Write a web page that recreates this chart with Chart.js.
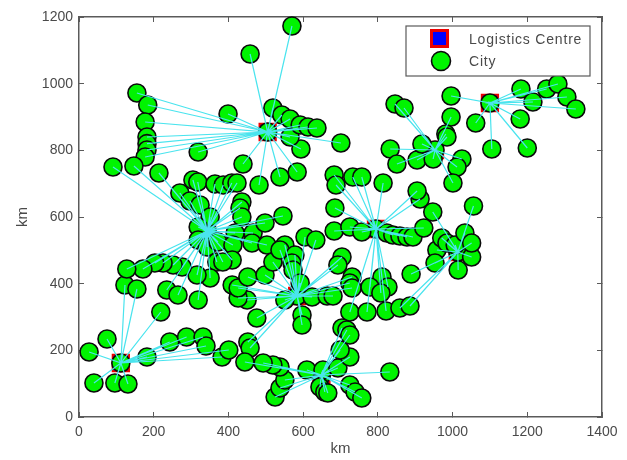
<!DOCTYPE html>
<html><head><meta charset="utf-8">
<style>html,body{margin:0;padding:0;background:#fff}#w{width:627px;height:460px;position:relative}canvas{display:block;filter:blur(0.55px)}</style>
<script src="https://cdn.jsdelivr.net/npm/chart.js@4/dist/chart.umd.min.js"></script>
</head><body><div id="w"><canvas id="c" width="627" height="460"></canvas></div>
<script>
const legendLabels=["Logistics Centre","City"];
const axisTitle="km";
const xTicks=[0,200,400,600,800,1000,1200,1400];
const yTicks=[0,200,400,600,800,1000,1200];
const hubA=[112,162];
const citiesA=[[75,234],[27,195],[40,102],[96,102],[131,99],[182,180],[123,396],[155,384],[219,315],[243,225],[288,240],[332,240],[340,213],[383,180],[401,201]];
const hubB=[505,855];
const citiesB=[[570,1173],[458,1089],[155,972],[184,936],[177,885],[399,909],[182,840],[182,820],[182,801],[177,780],[319,795],[439,759],[482,696],[538,720],[584,735],[594,804],[565,840],[519,927],[543,906],[565,894],[592,876],[613,870],[637,867],[701,822]];
const hubC=[343,558];
const citiesC=[[91,750],[147,753],[214,732],[270,672],[297,648],[324,636],[351,600],[305,711],[318,705],[364,699],[386,696],[409,702],[423,702],[436,645],[431,627],[436,600],[319,570],[319,531],[343,510],[372,525],[418,552],[412,516],[466,552],[463,522],[498,582],[503,516],[546,603],[410,471],[369,465],[385,465],[351,417],[316,426],[276,450],[252,456],[225,462],[203,462],[171,444],[128,444],[235,381],[265,366],[319,351]];
const hubD=[584,363];
const citiesD=[[476,297],[597,306],[597,276],[551,351],[624,360],[664,363],[680,363],[450,351],[426,357],[410,396],[426,387],[452,420],[498,426],[519,465],[551,516],[538,501],[578,486],[570,462],[573,441],[592,402],[605,540],[634,531],[704,480],[693,456],[731,420],[725,402],[731,387],[452,225],[458,207]];
const hubE=[795,564];
const citiesE=[[685,627],[683,558],[725,570],[757,555],[824,552],[840,546],[859,543],[878,540],[894,540],[923,567],[683,726],[688,696],[733,720],[757,720],[814,702],[913,654],[905,678],[811,420],[779,390],[827,390],[808,372],[725,315],[771,315],[822,318]];
const hubF=[1014,495];
const citiesF=[[958,501],[971,537],[985,522],[1007,516],[953,462],[1015,441],[1033,552],[1051,480],[1051,522],[1056,633],[947,615],[889,429],[859,327],[886,333]];
const hubG=[1100,942];
const citiesG=[[996,963],[1062,882],[1105,804],[1200,807],[1181,894],[1183,984],[1215,945],[1252,984],[1282,999],[1306,960],[1330,924]];
const hubH=[953,801];
const citiesH=[[996,900],[982,849],[985,840],[833,804],[851,759],[905,771],[918,819],[948,774],[1025,774],[1012,750],[1001,702],[846,939],[870,927]];
const hubI=[649,126];
const citiesI=[[610,141],[653,141],[693,147],[645,90],[658,75],[666,72],[525,60],[538,87],[551,111],[538,150],[519,156],[493,162],[444,165],[725,180],[699,201],[704,267],[717,261],[725,246],[725,96],[739,75],[757,57],[832,135]];

const groups=[[hubA,citiesA],[hubB,citiesB],[hubC,citiesC],[hubD,citiesD],[hubE,citiesE],[hubF,citiesF],[hubG,citiesG],[hubH,citiesH],[hubI,citiesI]];
const pt=p=>({x:p[0],y:p[1]});
const hubs=groups.map(g=>pt(g[0]));
const cities=groups.flatMap(g=>[pt(g[0]),...g[1].map(pt)]);
const LINE='#4ae4ee',GREEN='#00f400',AX='#5a5a5a',TXT='#4a4a4a';
const datasets=[];
groups.forEach(g=>{
  const star=[];
  g[1].forEach(c=>{star.push(pt(g[0]),pt(c));});
  datasets.push({label:'links',data:star,showLine:true,pointRadius:0,borderColor:LINE,borderWidth:1.2,order:1,tension:0});
});
datasets.push({label:legendLabels[1],data:cities,pointStyle:'circle',pointRadius:9,pointBackgroundColor:GREEN,pointBorderColor:'#0a0a0a',pointBorderWidth:1.6,showLine:false,order:2});
datasets.push({label:legendLabels[0],data:hubs,pointStyle:'rect',pointRadius:11.5,pointBackgroundColor:'#0000ff',pointBorderColor:'#ee0000',pointBorderWidth:2,showLine:false,order:3});

const legendPlugin={id:'boxLegend',afterDraw(ch){
  const c=ch.ctx;c.save();
  c.fillStyle='#fff';c.strokeStyle=AX;c.lineWidth=1.2;
  c.fillRect(406,26,184,50);c.strokeRect(406,26,184,50);
  c.fillStyle='#ee0000';c.fillRect(430,29,19,19);
  c.fillStyle='#0000ff';c.fillRect(433,32,13,13);
  c.beginPath();c.arc(441,61,9.5,0,Math.PI*2);c.fillStyle=GREEN;c.fill();c.lineWidth=1.6;c.strokeStyle='#0a0a0a';c.stroke();
  c.fillStyle=TXT;c.font='14px "Liberation Sans"';c.textBaseline='middle';c.textAlign='left';
  try{c.letterSpacing='0.8px'}catch(e){}
  c.fillText(legendLabels[0],469,40);c.fillText(legendLabels[1],469,62);
  c.restore();
}};
const tickFont={family:'"Liberation Sans"',size:14};
const noPad=a=>{a.paddingTop=0;a.paddingBottom=0;a.paddingLeft=0;a.paddingRight=0;};
const fixedX=(sz,disp,pos)=>({type:'linear',position:pos,min:0,max:1400,
  afterBuildTicks:a=>{a.ticks=xTicks.map(v=>({value:v}));},
  afterFit:a=>{a.height=sz;noPad(a);},
  border:{color:AX,width:1.5},
  grid:{drawOnChartArea:false,drawTicks:true,tickLength:-5,color:AX,lineWidth:1},
  ticks:{display:disp,color:TXT,font:tickFont,padding:12,maxRotation:0,autoSkip:false,callback:v=>String(v)}});
const fixedY=(sz,disp,pos)=>({type:'linear',position:pos,min:0,max:1200,
  afterBuildTicks:a=>{a.ticks=yTicks.map(v=>({value:v}));},
  afterFit:a=>{a.width=sz;noPad(a);},
  border:{color:AX,width:1.5},
  grid:{drawOnChartArea:false,drawTicks:true,tickLength:-5,color:AX,lineWidth:1},
  ticks:{display:disp,color:TXT,font:tickFont,padding:11,autoSkip:false,callback:v=>String(v)}});
const sx=fixedX(43,true,'bottom');sx.title={display:true,text:axisTitle,color:TXT,font:{family:'"Liberation Sans"',size:15},padding:{top:-2,bottom:2}};
const sy=fixedY(79,true,'left');sy.title={display:true,text:axisTitle,color:TXT,font:{family:'"Liberation Sans"',size:15},padding:{top:14,bottom:4}};
new Chart(document.getElementById('c'),{
  type:'scatter',
  data:{datasets},
  options:{responsive:false,animation:false,devicePixelRatio:1,
    layout:{padding:0},clip:false,
    plugins:{legend:{display:false},tooltip:{enabled:false}},
    scales:{x:sx,y:sy,xTop:fixedX(17,false,'top'),yRight:fixedY(25,false,'right')}
  },
  plugins:[legendPlugin]
});
</script>
</body></html>
